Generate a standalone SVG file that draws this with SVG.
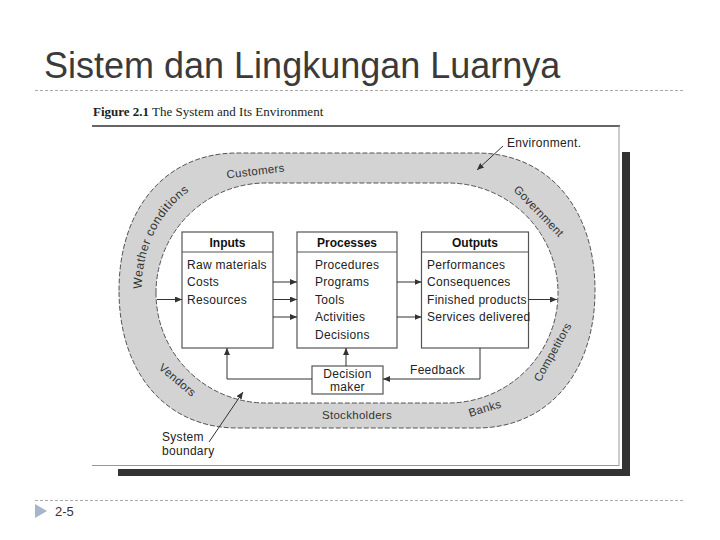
<svg xmlns="http://www.w3.org/2000/svg" width="720" height="540" viewBox="0 0 720 540">
<style>
.title{font-family:"Liberation Sans",Arial,sans-serif;font-size:36px;fill:#3a3a3a}
.cap{font-family:"Liberation Serif","Times New Roman",serif;font-size:13px;fill:#222}
.t{font-family:"Liberation Sans",Arial,sans-serif;font-size:12px;fill:#222;letter-spacing:0.3px}
.h{font-family:"Liberation Sans",Arial,sans-serif;font-size:12px;font-weight:bold;fill:#111;text-anchor:middle}
.r{font-family:"Liberation Sans",Arial,sans-serif;font-size:11.5px;fill:#333;text-anchor:middle;letter-spacing:0.3px}
.box{fill:#fff;stroke:#555;stroke-width:1.2}
.edge{fill:none;stroke:#333;stroke-width:1;marker-end:url(#ah)}
.dash{fill:none;stroke:#444;stroke-width:0.9;stroke-dasharray:5 2}
.sep{stroke:#aaa;stroke-width:1;stroke-dasharray:3 2}
</style>
<defs>
<marker id="ah" markerWidth="7" markerHeight="6" refX="7" refY="3" orient="auto" markerUnits="userSpaceOnUse">
<path d="M0,0 L7,3 L0,6 z" fill="#333"/>
</marker>
<path id="wc" d="M137.5,291.75 C137.5,220 185.4,168 251.5,168"/>
</defs>
<rect width="720" height="540" fill="#fff"/>
<text class="title" x="44" y="78">Sistem dan Lingkungan Luarnya</text>
<line class="sep" x1="35" y1="90.5" x2="685" y2="90.5"/>
<line class="sep" x1="35" y1="500.5" x2="685" y2="500.5"/>
<path d="M35,504 L47,511 L35,518 z" fill="#a3b6cc"/>
<text x="55" y="516" font-family="Liberation Sans,Arial,sans-serif" font-size="13" fill="#333">2-5</text>
<text class="cap" x="93" y="116"><tspan font-weight="bold">Figure 2.1</tspan>  The System and Its Environment</text>
<g id="frame">
<rect x="622" y="152" width="8" height="324" fill="#333"/>
<rect x="118" y="469" width="512" height="7" fill="#333"/>
<rect x="92" y="126" width="527" height="340" fill="#fff"/>
<line x1="92" y1="126" x2="620" y2="126" stroke="#333" stroke-width="1.5"/>
<line x1="619" y1="126" x2="619" y2="466" stroke="#999" stroke-width="1"/>
<line x1="92" y1="465.5" x2="619" y2="465.5" stroke="#999" stroke-width="1"/>
</g>
<g id="ring">
<path fill="#d3d3d3" fill-rule="evenodd" d="M119,290.5 C119,208 166.2,153 237,153 L477,153 C547.8,153 595,208 595,290.5 C595,373 547.8,428 477,428 L237,428 C166.2,428 119,373 119,290.5 Z M156,293 A110,110 0 0 1 266,183 L448,183 A110,110 0 0 1 558,293 A110,110 0 0 1 448,403 L266,403 A110,110 0 0 1 156,293 Z"/>
<path class="dash" d="M119,290.5 C119,208 166.2,153 237,153 L477,153 C547.8,153 595,208 595,290.5 C595,373 547.8,428 477,428 L237,428 C166.2,428 119,373 119,290.5 Z"/>
<path class="dash" d="M156,293 A110,110 0 0 1 266,183 L448,183 A110,110 0 0 1 558,293 A110,110 0 0 1 448,403 L266,403 A110,110 0 0 1 156,293 Z"/>
<text class="r" style="text-anchor:start;font-size:12px;letter-spacing:0.8px" dominant-baseline="central"><textPath href="#wc" startOffset="3">Weather conditions</textPath></text>
<text class="r" transform="translate(256,175) rotate(-7)">Customers</text>
<text class="r" transform="translate(536,214) rotate(46)">Government</text>
<text class="r" transform="translate(556,354) rotate(-61)">Competitors</text>
<text class="r" transform="translate(486,412) rotate(-17)">Banks</text>
<text class="r" x="357" y="419">Stockholders</text>
<text class="r" transform="translate(175,383) rotate(40)">Vendors</text>
</g>
<g id="inputs">
<rect class="box" x="182" y="232" width="91" height="116"/>
<line x1="182" y1="252" x2="273" y2="252" stroke="#555" stroke-width="1.2"/>
<text class="h" x="227.5" y="246.5">Inputs</text>
<text class="t" x="187" y="268.5">Raw materials</text>
<text class="t" x="187" y="286">Costs</text>
<text class="t" x="187" y="303.5">Resources</text>
</g>
<g id="processes">
<rect class="box" x="297" y="232" width="100" height="116"/>
<line x1="297" y1="252" x2="397" y2="252" stroke="#555" stroke-width="1.2"/>
<text class="h" x="347" y="246.5">Processes</text>
<text class="t" x="315" y="268.5">Procedures</text>
<text class="t" x="315" y="286">Programs</text>
<text class="t" x="315" y="303.5">Tools</text>
<text class="t" x="315" y="321">Activities</text>
<text class="t" x="315" y="339">Decisions</text>
</g>
<g id="outputs">
<rect class="box" x="421.5" y="232" width="107" height="116"/>
<line x1="421.5" y1="252" x2="528.5" y2="252" stroke="#555" stroke-width="1.2"/>
<text class="h" x="475" y="246.5">Outputs</text>
<text class="t" x="427" y="268.5">Performances</text>
<text class="t" x="427" y="286">Consequences</text>
<text class="t" x="427" y="303.5">Finished products</text>
<text class="t" x="427" y="321">Services delivered</text>
</g>
<g id="decision-maker">
<rect class="box" x="312" y="366" width="71" height="28"/>
<text class="t" x="347.5" y="378" text-anchor="middle">Decision</text>
<text class="t" x="347.5" y="391" text-anchor="middle">maker</text>
</g>
<g id="labels">
<text class="t" x="507" y="147">Environment.</text>
<text class="t" x="162" y="441">System</text>
<text class="t" x="162" y="455">boundary</text>
<text class="t" x="410" y="374">Feedback</text>
</g>
<g id="connectors">
<path class="edge" d="M157,299.5 L182,299.5"/>
<path class="edge" d="M273,282 L297,282"/>
<path class="edge" d="M273,299.5 L297,299.5"/>
<path class="edge" d="M273,317 L297,317"/>
<path class="edge" d="M397,282 L421.5,282"/>
<path class="edge" d="M397,317 L421.5,317"/>
<path class="edge" d="M528.5,299.5 L557,299.5"/>
<path class="edge" d="M480,348 L480,379 L383,379"/>
<path class="edge" d="M346,366 L346,348"/>
<path class="edge" d="M312,379 L227,379 L227,348"/>
<path class="edge" d="M503,146 L477,170"/>
<path class="edge" d="M209,442 L243,392"/>
</g>
</svg>
